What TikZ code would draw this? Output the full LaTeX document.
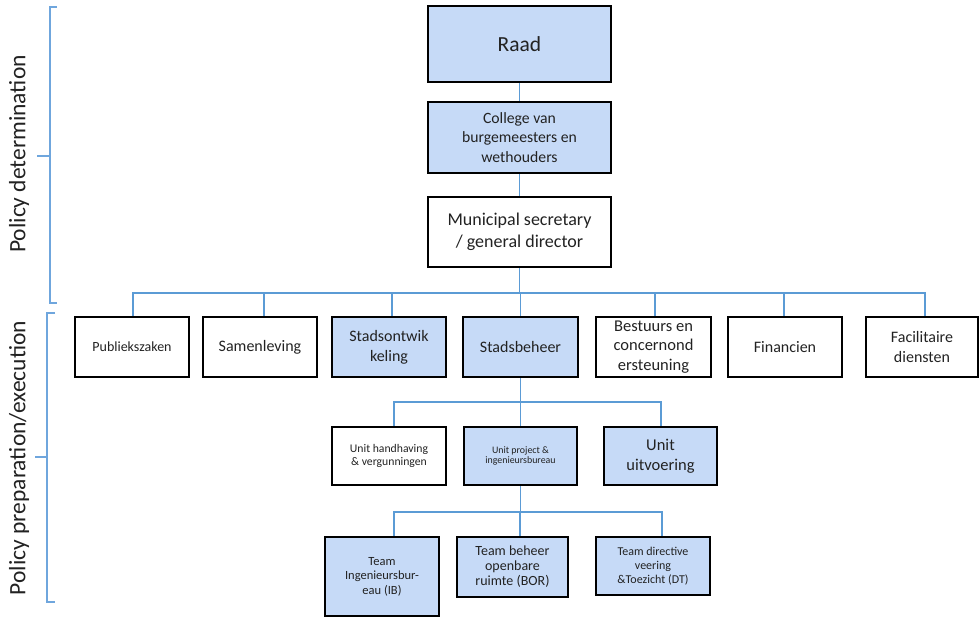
\documentclass[tikz,border=0pt]{standalone}
\usepackage{fontspec}
\setmainfont{Carlito}
\begin{document}
\begin{tikzpicture}[x=1pt,y=-1pt,
  box/.style={draw=black, line width=2.2pt, inner sep=0pt, align=center,
    text=txt, minimum width=114pt, minimum height=60pt},
  blue/.style={box, fill=boxblue},
  link/.style={draw=linkblue, line width=1.4pt},
  bracket/.style={draw=bracketblue, line width=1.4pt},
  fs/.style 2 args={font=\fontsize{#1}{#2}\selectfont}]
\definecolor{boxblue}{HTML}{C6DAF7}
\definecolor{linkblue}{HTML}{5B9BD5}
\definecolor{bracketblue}{HTML}{6FA6DD}
\definecolor{txt}{HTML}{222222}
\useasboundingbox (0,0) rectangle (980,618);

% top of the hierarchy
\node[blue, minimum width=183pt, minimum height=76pt, fs={21.5}{25}] (raad) at (519.5,44) {Raad};
\node[blue, minimum width=183pt, minimum height=71pt, fs={15.7}{19.5}] (college) at (519.5,137.5)
  {College van\\burgemeesters en\\wethouders};
\node[box, minimum width=183pt, minimum height=70pt, fs={18}{21.5}] (muni) at (519.5,232)
  {Municipal secretary\\/ general director};

% departments
\node[box, fs={14}{16}] (pub) at (132,347) {Publiekszaken};
\node[box, fs={16}{19.5}] (sam) at (260,347) {Samenleving};
\node[blue, fs={16}{20}] (sto) at (389,347) {Stadsontwik\\keling};
\node[blue, minimum width=115pt, fs={16}{19.5}] (stb) at (520.5,347) {Stadsbeheer};
\node[box, minimum width=115pt, fs={16.5}{19.5}] (bes) at (653.5,347) {Bestuurs en\\concernond\\ersteuning};
\node[box, fs={16}{19.5}] (fin) at (785,347) {Financien};
\node[box, minimum width=112pt, fs={16}{20}] (fac) at (922,347) {Facilitaire\\diensten};

% units of Stadsbeheer
\node[box, minimum height=58pt, fs={11.7}{13}] (uh) at (389,456) {Unit handhaving\\\& vergunningen};
\node[blue, minimum width=113pt, minimum height=58pt, fs={9.9}{10.5}] (up) at (520.5,456)
  {Unit project \&\\ingenieursbureau};
\node[blue, minimum width=113pt, minimum height=58pt, fs={16.5}{20}] (uu) at (660.5,456) {Unit\\uitvoering};

% teams
\node[blue, minimum height=79pt, fs={12.5}{14.5}] (tib) at (382,576.5) {Team\\Ingenieursbur-\\eau (IB)};
\node[blue, minimum width=111pt, fs={14}{15}] (tbor) at (512.5,567) {Team beheer\\openbare\\ruimte (BOR)};
\node[blue, minimum height=58pt, fs={12}{14}] (tdt) at (653,566) {Team directive\\veering\\\&Toezicht (DT)};

% vertical chain
\draw[link] (raad.south) -- (college.north);
\draw[link] (college.south) -- (muni.north);

% department bus
\coordinate (busA) at (muni.south |- 0,293);
\draw[link] (muni.south) -- (busA);
\foreach \n/\dx in {pub/1, sam/4, sto/3, stb/0, bes/1.5, fin/-1, fac/3}
  \draw[link] (busA) -| ([xshift=\dx pt]\n.north);

% unit bus
\coordinate (busB) at (stb.south |- 0,402);
\draw[link] (stb.south) -- (busB);
\foreach \n/\dx in {uh/5, up/0, uu/0.5}
  \draw[link] (busB) -| ([xshift=\dx pt]\n.north);

% team bus
\coordinate (busC) at (up.south |- 0,512);
\draw[link] (up.south) -- (busC);
\foreach \n/\dx in {tib/12, tbor/7.5, tdt/9}
  \draw[link] (busC) -| ([xshift=\dx pt]\n.north);

% side brackets and their labels
\draw[bracket] (57,7) -- (50,7) -- (50,303) -- (57,303);
\draw[bracket] (50,156) -- (37,156);
\draw[bracket] (55,313) -- (47,313) -- (47,602) -- (55,602);
\draw[bracket] (47,457) -- (35,457);
\node[rotate=90, text=txt, fs={23.5}{27}] (lblA) at (19,154) {Policy determination};
\node[rotate=90, text=txt, fs={23.5}{27}] (lblB) at (19,458) {Policy preparation/execution};
\end{tikzpicture}
\end{document}
